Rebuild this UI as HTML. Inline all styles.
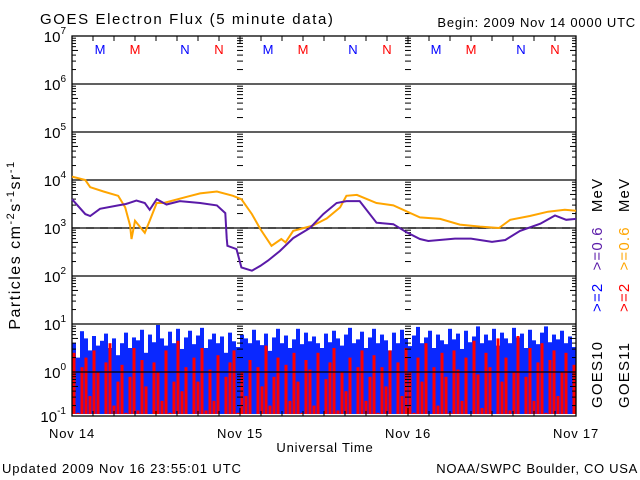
<!DOCTYPE html>
<html><head><meta charset="utf-8"><style>
html,body{margin:0;padding:0;background:#fff;}
svg{display:block;font-family:"Liberation Sans",sans-serif;}
</style></head><body>
<svg id="chart" width="640" height="480" viewBox="0 0 640 480">
<text x="40" y="24" font-size="15" letter-spacing="1.6">GOES Electron Flux (5 minute data)</text>
<text x="636" y="27" font-size="13" letter-spacing="0.8" text-anchor="end">Begin: 2009 Nov 14 0000 UTC</text>
<text transform="translate(20,245) rotate(-90)" font-size="16" letter-spacing="1.5" text-anchor="middle">Particles cm<tspan dy="-6" font-size="11">-2</tspan><tspan dy="6">s</tspan><tspan dy="-6" font-size="11">-1</tspan><tspan dy="6">sr</tspan><tspan dy="-6" font-size="11">-1</tspan></text>
<text x="325" y="452" font-size="13" letter-spacing="0.8" text-anchor="middle">Universal Time</text>
<text x="2" y="473" font-size="13" letter-spacing="0.9">Updated 2009 Nov 16 23:55:01 UTC</text>
<text x="638" y="473" font-size="13" letter-spacing="0.7" text-anchor="end">NOAA/SWPC Boulder, CO USA</text>
<g id="marks"></g>
<g id="legend" font-size="15" letter-spacing="1.2">
 <text transform="translate(602,408) rotate(-90)">GOES10</text>
 <text transform="translate(629,408) rotate(-90)">GOES11</text>
 <text transform="translate(602,312) rotate(-90)"><tspan fill="#0000ff">&gt;=2</tspan><tspan dx="12" fill="#5a1aa8">&gt;=0.6</tspan><tspan dx="14" fill="#000">MeV</tspan></text>
 <text transform="translate(629,312) rotate(-90)"><tspan fill="#ff0000">&gt;=2</tspan><tspan dx="12" fill="#ffa500">&gt;=0.6</tspan><tspan dx="14" fill="#000">MeV</tspan></text>
</g>
</svg>
<script>
// hourly samples (hours since Nov 14 00:00) and log10 flux
const purpleHours=[0,1.9,2.6,4,6.6,7.7,9.2,10.4,11.1,12.1,13.5,15.4,18.3,20.7,21.9,22.1,22.2,23.5,24.2,25.7,26.9,28,29.7,31.6,34,35.9,37.8,39.2,41.1,43.5,45.9,47.8,49.7,50.9,54.7,57,60,61.9,64,66.9,69,70.6,72];
const purpleLog=[3.6,3.29,3.25,3.4,3.47,3.5,3.57,3.52,3.38,3.6,3.49,3.56,3.52,3.47,3.31,2.79,2.63,2.56,2.18,2.11,2.21,2.32,2.52,2.79,3.0,3.29,3.52,3.56,3.56,3.11,3.08,2.91,2.77,2.73,2.78,2.78,2.71,2.75,2.94,3.09,3.26,3.17,3.19];
const orangeHours=[0,1.9,2.6,4.5,6.6,7.6,8.3,8.5,9,10.4,11.1,12.1,13.1,16.4,18.3,20.7,23,24.2,25.7,26.9,28.5,29.9,30.5,31.6,34.4,36.4,38.3,39.2,40.7,43.5,45.9,49.7,52.6,55.4,58.3,61,62.6,65.4,68,70.4,72];
const orangeLog=[4.07,4.0,3.85,3.76,3.67,3.43,3.05,2.77,3.15,2.9,3.15,3.52,3.52,3.65,3.72,3.76,3.67,3.6,3.29,2.98,2.63,2.77,2.7,2.94,3.05,3.2,3.43,3.67,3.69,3.52,3.47,3.22,3.19,3.07,3.03,3.0,3.17,3.25,3.34,3.38,3.36];
const blueBars=[0.6,0.3,0.85,0.7,0.45,0.75,0.55,0.65,0.8,0.5,0.7,0.35,0.6,0.82,0.5,0.72,0.66,0.88,0.4,0.78,0.62,0.98,0.7,0.55,0.84,0.6,0.9,0.48,0.72,0.86,0.58,0.76,0.92,0.5,0.68,0.8,0.6,0.74,0.4,0.82,0.64,0.52,0.78,0.7,0.6,0.88,0.66,0.56,0.8,0.44,0.72,0.9,0.6,0.76,0.5,0.68,0.9,0.58,0.82,0.64,0.74,0.6,0.5,0.8,0.62,0.86,0.7,0.55,0.78,0.92,0.6,0.68,0.84,0.5,0.72,0.9,0.6,0.78,0.66,0.45,0.82,0.6,0.88,0.7,0.54,0.76,0.94,0.6,0.72,0.86,0.5,0.78,0.66,0.58,0.9,0.68,0.8,0.48,0.86,0.62,0.74,0.95,0.6,0.78,0.66,0.9,0.55,0.82,0.7,0.6,0.92,0.72,0.8,0.5,0.88,0.66,0.58,0.82,0.95,0.62,0.78,0.68,0.86,0.6,0.74,0.52];
const redBars=[0.4,-0.85,0.1,0.3,-0.5,0.45,0.0,-0.9,0.2,0.6,-0.7,-0.2,0.15,-0.85,-0.1,0.5,-0.8,0.25,-0.3,-0.9,0.2,0.0,-0.6,0.45,-0.85,-0.2,0.65,-0.4,0.1,-0.9,0.3,-0.2,0.5,-0.8,0.05,-0.6,0.35,-0.9,-0.1,0.2,0.45,-0.85,0.0,-0.5,0.25,-0.9,0.1,-0.3,0.55,-0.7,-0.1,0.3,-0.9,0.15,-0.6,0.4,-0.2,-0.85,0.25,0.05,-0.7,0.4,-0.9,-0.15,0.2,0.5,-0.8,0.0,-0.4,0.3,-0.9,0.1,0.45,-0.6,-0.1,0.35,-0.85,0.1,-0.3,0.45,-0.9,0.2,-0.5,0.5,0.0,-0.85,0.3,-0.2,0.6,-0.9,0.1,-0.7,0.4,-0.1,-0.85,0.45,0.05,-0.6,0.3,-0.9,0.65,-0.05,-0.75,0.4,0.1,-0.9,0.7,-0.2,0.3,-0.8,0.0,0.75,-0.9,-0.1,0.5,-0.6,0.2,0.6,-0.85,0.25,0.45,-0.5,0.0,0.4,-0.9,0.15];
const decadeLabels=['7','6','5','4','3','2','1','0','-1'];
const dayLabels=['Nov 14','Nov 15','Nov 16','Nov 17'];
const satLetters=[['M',100,'#0000ff'],['M',135,'#ff0000'],['N',185,'#0000ff'],['N',219,'#ff0000']];

const X0=72,X1=576,YTOP=36,DEC=48,YBOT=416;
const xH=h=>X0+h*(X1-X0)/72;
const yL=l=>YTOP+(7-l)*DEC;
const NS='http://www.w3.org/2000/svg';
const g=document.getElementById('marks');
function mk(t,a){const e=document.createElementNS(NS,t);for(const k in a)e.setAttribute(k,a[k]);g.appendChild(e);return e;}

// bars
const bw=(X1-X0)/blueBars.length;
blueBars.forEach((v,i)=>{const y=yL(v);const r=mk('rect',{x:X0+i*bw,y:y,width:bw,height:YBOT-2-y,fill:'#0a28ff'});

});
const rw=(X1-X0)/redBars.length;
redBars.forEach((v,i)=>{const y=yL(v);const r=mk('rect',{x:X0+i*rw+0.5,y:y,width:rw-1,height:YBOT-2-y,fill:'#ff0000'});

});

// grid lines
for(let d=1;d<=7;d++){const y=yL(7-d);if(y<YBOT){const l=mk('line',{x1:X0,x2:X1,y1:y,y2:y,stroke:'#000','stroke-width':1.3});

}}
const dl=mk('line',{x1:X0,x2:X1,y1:yL(3),y2:yL(3),stroke:'#000','stroke-width':1.3,'stroke-dasharray':'8,6'});



// minor ticks on axes and day lines
const tickXs=[[X0,1],[X1,-1],[xH(24),0],[xH(48),0]];
for(let d=0;d<8;d++){for(let m=2;m<=9;m++){const y=yL(7-d-1+Math.log10(m));if(y>YBOT||y<YTOP)continue;
 const len=m===5?6:4;
 tickXs.forEach(([x,s])=>{
  const a=s===0?{x1:x-3,x2:x+3}:{x1:x,x2:x+s*len};
  const t=mk('line',Object.assign(a,{y1:y,y2:y,stroke:'#000','stroke-width':1}));
  
  });}}
// decade labels
decadeLabels.forEach((s,i)=>{const y=yL(7-i);if(y>YBOT+4)return;
 const t=mk('text',{x:66,y:Math.min(y,YBOT)+6,'font-size':15,'text-anchor':'end'});t.innerHTML='10<tspan dy="-8" font-size="10">'+s+'</tspan>';
 
 });

// plot frame
const fr=mk('rect',{x:X0,y:YTOP,width:X1-X0,height:YBOT-YTOP,fill:'none',stroke:'#000','stroke-width':1.3});


// x ticks
for(let h=0;h<=72;h+=3){const x=xH(h);const len=h%24===0?8:5;
 const t=mk('line',{x1:x,x2:x,y1:YBOT,y2:YBOT-len,stroke:'#000','stroke-width':1});
 
 
 const t2=mk('line',{x1:x,x2:x,y1:YTOP,y2:YTOP+len,stroke:'#000','stroke-width':1});
 
 }
dayLabels.forEach((s,i)=>{const t=mk('text',{x:xH(i*24),y:438,'font-size':13,'letter-spacing':0.8,'text-anchor':'middle'});t.textContent=s;
 
 });
// satellite letters
for(let d=0;d<3;d++)satLetters.forEach(([s,x,c])=>{const t=mk('text',{x:x+d*168,y:54,'font-size':13,'text-anchor':'middle',fill:c});t.textContent=s;
 
 });

// lines
function line(hs,ls,color,name){const p=hs.map((h,i)=>xH(h).toFixed(1)+','+yL(ls[i]).toFixed(1)).join(' ');
 const e=mk('polyline',{points:p,fill:'none',stroke:color,'stroke-width':2});
 
 }
line(orangeHours,orangeLog,'#ffa500','goes11-0.6mev-line');
line(purpleHours,purpleLog,'#5a1aa8','goes10-0.6mev-line');
</script>
</body></html>
